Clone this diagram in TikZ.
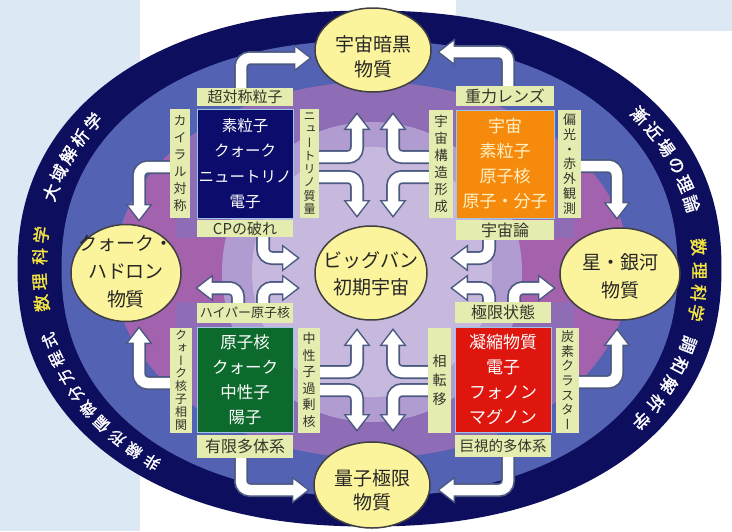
\documentclass[tikz,border=0pt]{standalone}
\usepackage{fontspec}
\newfontfamily\jp{Noto Sans CJK JP}
\newfontfamily\jpb{Noto Sans CJK JP}[FakeBold=1.5]
\newfontfamily\jpv{Noto Sans CJK JP}[RawFeature=+vert]
\usetikzlibrary{shapes.geometric,arrows.meta}
\pgfdeclarelayer{bgl}
\pgfdeclarelayer{arl}
\pgfsetlayers{bgl,arl,main}
\definecolor{bgblue}{HTML}{DCE8F4}
\definecolor{navyring}{HTML}{0E0E5E}
\definecolor{ringblue}{HTML}{5462B4}
\definecolor{purp}{HTML}{8E6CB6}
\definecolor{pinkp}{HTML}{B45AA6}
\definecolor{lavtwo}{HTML}{B09CD0}
\definecolor{lav}{HTML}{C6B9DD}
\definecolor{ellfill}{HTML}{FCF49C}
\definecolor{boxnavy}{HTML}{0C0C6C}
\definecolor{boxorange}{HTML}{F58A0C}
\definecolor{boxgreen}{HTML}{0C6A2C}
\definecolor{boxred}{HTML}{DE160E}
\definecolor{labfill}{HTML}{E4ECB0}
\definecolor{labtext}{HTML}{34342A}
\definecolor{arredge}{HTML}{4C5A82}
\definecolor{ringyellow}{HTML}{F4E640}
\definecolor{boxedge}{HTML}{9CC6E6}
\definecolor{orangetext}{HTML}{FFF2C8}
\tikzset{
  ell/.style={ellipse, draw=black!75, line width=1.5pt, fill=ellfill, inner sep=0pt},
  elltxt/.style={inner sep=0pt, align=center, text=black!85},
  bigbox/.style={rectangle, draw=boxedge, line width=0.8pt, inner sep=0pt, align=center, text=white},
  hlab/.style={rectangle, fill=labfill, inner sep=0pt, align=center, text=labtext},
  vlab/.style args={#1/#2}{rectangle, fill=labfill, inner sep=0pt, align=center, text=labtext, font=\jpv\fontsize{#1}{#2}\selectfont},
  ringchar/.style={inner sep=0pt},
  arrout/.style={draw=arredge, line width=14pt, rounded corners=9pt, -{Triangle[width=26pt,length=18pt]}},
  arrin/.style={draw=white, line width=10.5pt, rounded corners=9pt, shorten >=2.6pt, -{Triangle[width=20.5pt,length=14pt]}},
}
% #1 name, #2 start angle, #3 step, #4 colour, #5 size, #6 characters
\newcommand\ringtext[6]{%
  \foreach \ch [count=\ci] in {#6} {%
    \pgfmathsetmacro\rtt{#2-(\ci-1)*#3}%
    \pgfmathsetmacro\rxx{369.5+330*cos(\rtt)*(abs(cos(\rtt))+0.0001)^(-0.1)}%
    \pgfmathsetmacro\ryy{268.5-243*sin(\rtt)*(abs(sin(\rtt))+0.0001)^(-0.1)}%
    \pgfmathsetmacro\rrot{atan2(-243*cos(\rtt),330*sin(\rtt))}%
    \node[ringchar, text=#4, rotate=\rrot, font=\jpb\fontsize{#5}{#5}\selectfont] (#1\ci) at (\rxx,\ryy) {\ch};
  }}
\newcommand\allarrows[1]{%
  \draw[#1] (sus.north -| 241,0) |- (o1);
  \draw[#1] (grav.north -| 508,0) |- (o2);
  \draw[#1] (chir.west |- 0,167) -| (o3);
  \draw[#1] (qnc.west |- 0,383) -| (o4);
  \draw[#1] (pol.east |- 0,166) -| (o5);
  \draw[#1] (carb.east |- 0,382) -| (o6);
  \draw[#1] (fin.south -| 241,0) |- (o7);
  \draw[#1] (mac.south -| 508,0) |- (o8);
  \draw[#1] (cp.south -| 263,0) |- (a1);
  \draw[#1] (hyp.north -| 263,0) |- (a2);
  \draw[#1] (hyp.north -| 238,0) |- (a3);
  \draw[#1] (cosmo.south -| 489,0) |- (b1);
  \draw[#1] (ext.north -| 489,0) |- (b2);
  \draw[#1] (ext.north -| 514,0) |- (b3);
  \draw[#1] (nm.east |- 0,157) -| (c1);
  \draw[#1] (nm.east |- 0,177) -| (c2);
  \draw[#1] (struc.west |- 0,157) -| (d1);
  \draw[#1] (struc.west |- 0,177) -| (d2);
  \draw[#1] (nrich.east |- 0,372) -| (e1);
  \draw[#1] (nrich.east |- 0,390) -| (e2);
  \draw[#1] (pt.west |- 0,372) -| (f1);
  \draw[#1] (pt.west |- 0,390) -| (f2);
}
\begin{document}
\begin{tikzpicture}[x=1pt,y=-1pt]
\useasboundingbox (0,0) rectangle (732,531);
\begin{pgfonlayer}{bgl}
  \fill[white] (0,0) rectangle (732,531);
  \fill[bgblue] (0,0) rectangle (140,531);
  \fill[bgblue] (456,0) rectangle (732,31);
  \fill[navyring] plot[domain=0.25:360.25, samples=241]
    ({369.5+352*cos(\x)*(abs(cos(\x))+0.0001)^(-0.1)}, {268.5-258*sin(\x)*(abs(sin(\x))+0.0001)^(-0.1)}) -- cycle;
  \fill[ringblue] plot[domain=0.25:360.25, samples=241]
    ({369.5+308*cos(\x)*(abs(cos(\x))+0.0001)^(-0.1)}, {268.5-228*sin(\x)*(abs(sin(\x))+0.0001)^(-0.1)}) -- cycle;
  \fill[purp] (372,270) ellipse [x radius=258pt, y radius=188pt];
  \begin{scope}
    \clip (372,270) ellipse [x radius=258pt, y radius=188pt];
    \fill[pinkp, opacity=.55] (126,110) rectangle (176,440);
    \fill[pinkp, opacity=.55] (574,110) rectangle (624,440);
    \fill[pinkp, opacity=.6] (176,238) rectangle (320,302);
    \fill[pinkp, opacity=.6] (430,238) rectangle (574,302);
  \end{scope}
  \fill[lavtwo] (372,272) ellipse [x radius=150pt, y radius=150pt];
  \fill[lav] (372,272) ellipse [x radius=120pt, y radius=125pt];
\end{pgfonlayer}

% ring texts
\ringtext{ga}{164}{4.7}{white}{17}{大,域,解,析,学}
\ringtext{ml}{186.6}{4.33}{ringyellow}{17}{数,理,科,学}
\ringtext{np}{231}{4.5}{white}{15.5}{非,線,形,偏,微,分,方,程,式}
\ringtext{as}{36.8}{4.7}{white}{17}{漸,近,場,の,理,論}
\ringtext{mr}{3.9}{4.2}{ringyellow}{17}{数,理,科,学}
\ringtext{ha}{-16}{5.1}{white}{17}{調,和,解,析,学}

% ellipses
\node[ell, minimum width=116pt, minimum height=84pt] (dm) at (373,50) {};
\node[elltxt, font=\jp\fontsize{19}{25}\selectfont] (dmt) at (373,56.5) {宇宙暗黒\\物質};
\node[ell, minimum width=116pt, minimum height=86pt] (qe) at (372,485) {};
\node[elltxt, font=\jp\fontsize{19}{24}\selectfont] (qet) at (372,490) {量子極限\\物質};
\node[ell, minimum width=110pt, minimum height=97pt] (qh) at (126,273) {};
\node[elltxt, font=\jp\fontsize{19}{28}\selectfont] (qht) at (126,272) {クォーク・\\ハドロン\\物質};
\node[ell, minimum width=120pt, minimum height=92pt] (sg) at (620,274) {};
\node[elltxt, font=\jp\fontsize{19}{28}\selectfont] (sgt) at (620,276) {星・銀河\\物質};
\node[ell, minimum width=112pt, minimum height=94pt] (bb) at (371,273) {};
\node[elltxt, font=\jp\fontsize{19}{27}\selectfont] (bbt) at (371,273.5) {ビッグバン\\初期宇宙};

% boxes
\node[bigbox, fill=boxnavy, minimum width=96pt, minimum height=109pt, font=\jp\fontsize{15.5}{25.5}\selectfont] (ele) at (245,163.5) {素粒子\\クォーク\\ニュートリノ\\電子};
\node[bigbox, fill=boxorange, text=orangetext, minimum width=98pt, minimum height=108pt, font=\jp\fontsize{17}{25}\selectfont] (cosbox) at (505,164) {宇宙\\素粒子\\原子核\\原子・分子};
\node[bigbox, fill=boxgreen, minimum width=96pt, minimum height=105pt, font=\jp\fontsize{16.5}{25}\selectfont] (nuc) at (245,379.5) {原子核\\クォーク\\中性子\\陽子};
\node[bigbox, fill=boxred, minimum width=96pt, minimum height=105pt, font=\jp\fontsize{17}{25}\selectfont] (cond) at (503,379.5) {凝縮物質\\電子\\フォノン\\マグノン};

% horizontal labels
\node[hlab, minimum width=96pt, minimum height=18pt, font=\jp\fontsize{15}{15}\selectfont] (sus) at (245,97) {超対称粒子};
\node[hlab, minimum width=96pt, minimum height=17pt, font=\jp\fontsize{15}{15}\selectfont] (cp) at (245,228.5) {CPの破れ};
\node[hlab, minimum width=98pt, minimum height=20pt, font=\jp\fontsize{16}{16}\selectfont] (grav) at (505,96) {重力レンズ};
\node[hlab, minimum width=98pt, minimum height=20pt, font=\jp\fontsize{16}{16}\selectfont] (cosmo) at (505,230) {宇宙論};
\node[hlab, minimum width=96pt, minimum height=20pt, font=\jp\fontsize{13}{13}\selectfont] (hyp) at (245,313) {ハイパー原子核};
\node[hlab, minimum width=96pt, minimum height=23pt, font=\jp\fontsize{16}{16}\selectfont] (fin) at (245,446.5) {有限多体系};
\node[hlab, minimum width=96pt, minimum height=21pt, font=\jp\fontsize{16}{16}\selectfont] (ext) at (503,312.5) {極限状態};
\node[hlab, minimum width=96pt, minimum height=22pt, font=\jp\fontsize{14.5}{14.5}\selectfont] (mac) at (503,446) {巨視的多体系};

% vertical labels
\node[vlab={13/17}, minimum width=20pt, minimum height=109pt] (chir) at (180,163.5) {カ\\イ\\ラ\\ル\\対\\称};
\node[vlab={12/13.3}, minimum width=19pt, minimum height=109pt] (nm) at (309.5,163.5) {ニ\\ュ\\ー\\ト\\リ\\ノ\\質\\量};
\node[vlab={13.5/17}, minimum width=24pt, minimum height=108pt] (struc) at (441,164) {宇\\宙\\構\\造\\形\\成};
\node[vlab={13/14.8}, minimum width=23pt, minimum height=108pt] (pol) at (569.5,164) {偏\\光\\・\\赤\\外\\観\\測};
\node[vlab={12/12.8}, minimum width=22pt, minimum height=105pt] (qnc) at (181,380) {ク\\ォ\\ー\\ク\\核\\子\\相\\関};
\node[vlab={13/16.5}, minimum width=22pt, minimum height=105pt] (nrich) at (309,380) {中\\性\\子\\過\\剰\\核};
\node[vlab={14/19}, minimum width=23pt, minimum height=105pt] (pt) at (439.5,380) {相\\転\\移};
\node[vlab={13/14.6}, minimum width=23pt, minimum height=105pt] (carb) at (567.5,380) {炭\\素\\ク\\ラ\\ス\\タ\\ー};

% arrow end points
\coordinate (o1) at (312,58);
\coordinate (o2) at (437,52);
\coordinate (o3) at (139,222);
\coordinate (o4) at (139,326);
\coordinate (o5) at (617,220);
\coordinate (o6) at (617,328);
\coordinate (o7) at (310,490);
\coordinate (o8) at (437,490);
\coordinate (a1) at (300,258);
\coordinate (a2) at (300,288);
\coordinate (a3) at (195,288);
\coordinate (b1) at (450,258);
\coordinate (b2) at (450,288);
\coordinate (b3) at (556,288);
\coordinate (c1) at (357,112);
\coordinate (c2) at (357,218);
\coordinate (d1) at (393,112);
\coordinate (d2) at (393,218);
\coordinate (e1) at (357,328);
\coordinate (e2) at (357,432);
\coordinate (f1) at (393,328);
\coordinate (f2) at (393,432);

\begin{pgfonlayer}{arl}
  \allarrows{arrout}
  \allarrows{arrin}
\end{pgfonlayer}
\end{tikzpicture}
\end{document}
